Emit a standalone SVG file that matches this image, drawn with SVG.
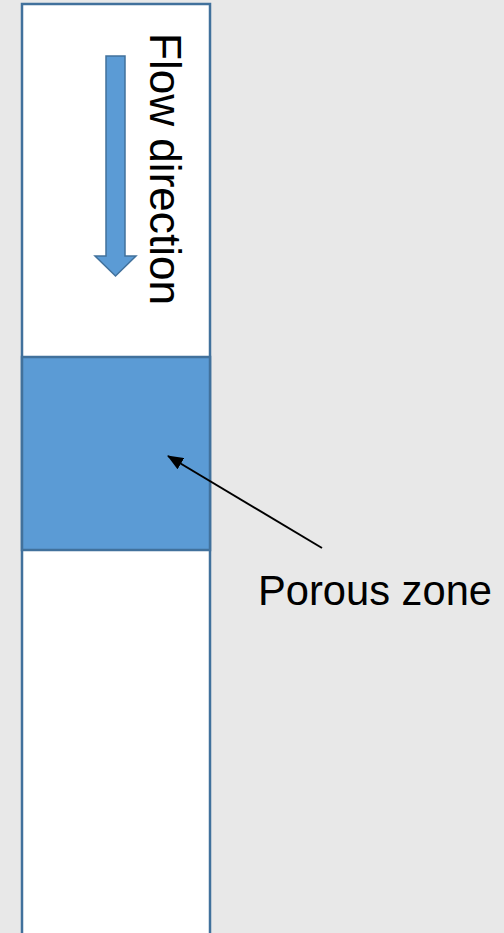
<svg xmlns="http://www.w3.org/2000/svg" width="504" height="933" viewBox="0 0 504 933">
<style>
.col{fill:#ffffff;stroke:#41719c;stroke-width:2.5}
.zone{fill:#5b9bd5;stroke:#41719c;stroke-width:2.5}
.lbl{font-family:"Liberation Sans",Arial,sans-serif;fill:#000}
</style>
<defs>
<marker id="ah" markerWidth="16" markerHeight="13" refX="15" refY="6.5" orient="auto" markerUnits="userSpaceOnUse" viewBox="0 0 16 13">
<path d="M0,0 L16,6.5 L0,13 Z" fill="#000"/>
</marker>
</defs>
<rect width="504" height="933" fill="#e8e8e8"/>
<g id="column">
<rect class="col" x="22" y="4" width="188" height="940"/>
</g>
<g id="porous-zone">
<rect class="zone" x="22" y="357" width="188" height="193"/>
</g>
<g id="flow-arrow">
<path d="M106,56 H125 V256 H136 L115.5,276 L95,256 H106 Z" fill="#5b9bd5" stroke="#41719c" stroke-width="1.5"/>
<text class="lbl" transform="translate(150,33) rotate(90)" font-size="45" textLength="272" lengthAdjust="spacingAndGlyphs">Flow direction</text>
</g>
<g id="connectors">
<line x1="322" y1="548" x2="168" y2="456" stroke="#000" stroke-width="2" marker-end="url(#ah)"/>
</g>
<g id="porous-label">
<text class="lbl" x="258" y="605" font-size="42" textLength="234" lengthAdjust="spacingAndGlyphs">Porous zone</text>
</g>
</svg>
